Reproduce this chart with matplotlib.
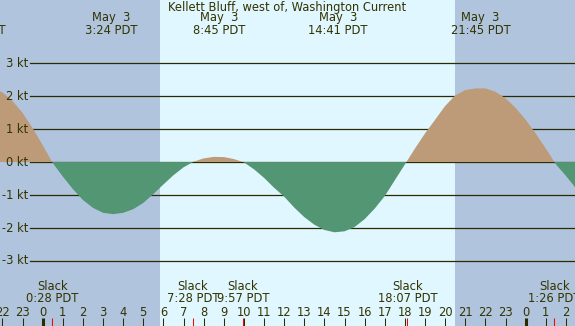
import numpy as np
import matplotlib
matplotlib.use("Agg")
import matplotlib.pyplot as plt

plt.rcParams['font.family'] = ['DejaVu Sans']

title = "Kellett Bluff, west of, Washington Current"

# sampled current speed (kt), every half hour, hours relative to May 3 00:00 PDT
hours = np.arange(-2.5, 26.51, 0.5)
speed = [2.24, 2.11, 1.85, 1.49, 1.03, 0.51, -0.03, -0.44, -0.82, -1.15,
         -1.39, -1.54, -1.58, -1.54, -1.43, -1.24, -0.97, -0.68, -0.40, -0.16,
         0.01, 0.11, 0.155, 0.15, 0.09, -0.01, -0.22, -0.48, -0.78, -1.05,
         -1.38, -1.67, -1.90, -2.06, -2.13, -2.10, -1.97, -1.73, -1.41, -1.03,
         -0.55, -0.07, 0.41, 0.87, 1.28, 1.70, 2.02, 2.18, 2.23, 2.23,
         2.13, 1.93, 1.64, 1.28, 0.86, 0.41, -0.07, -0.42, -0.80]

# max current events
max_hours = [-3.32, 3.40, 8.75, 14.68, 21.75]
max_dates = ["May  2", "May  3", "May  3", "May  3", "May  3"]
max_labels = ["20:41 PDT", "3:24 PDT", "8:45 PDT", "14:41 PDT", "21:45 PDT"]

# slack events
slack_hours = [0.47, 7.47, 9.95, 18.12, 25.43]
slack_labels = ["0:28 PDT", "7:28 PDT", "9:57 PDT", "18:07 PDT", "1:26 PDT"]

# daylight
sunrise = 5.83
sunset = 20.49

y_ticks = [3, 2, 1, 0, -1, -2, -3]
hour_ticks = list(range(-2, 27))

night_col = '#b0c4de'
day_col = '#e0f7ff'
flood_col = '#bd9b79'
ebb_col = '#539673'
txt_col = '#333300'
FS = 8.3

W, H = 575, 326
fig = plt.figure(figsize=(W / 100, H / 100), dpi=100)
ax = fig.add_axes([0, 0, 1, 1])
x0, x1 = -2.12, 26.45
y0, y1 = -4.97, 4.91
ax.set_xlim(x0, x1)
ax.set_ylim(y0, y1)
ax.axis('off')

# background
ax.axvspan(x0, sunrise, color=night_col, zorder=0, lw=0)
ax.axvspan(sunrise, sunset, color=day_col, zorder=0, lw=0)
ax.axvspan(sunset, x1, color=night_col, zorder=0, lw=0)

# grid lines and labels
for v in y_ticks:
    ax.axhline(v, xmin=30 / W, xmax=1, color='#2b2b00', lw=0.9, zorder=1)
    ax.text(x0 + 28 / 20.125, v, f"{v} kt", ha='right', va='center',
            fontsize=FS, color=txt_col, zorder=3)

# current fill
h = np.asarray(hours)
s = np.asarray(speed)
ax.fill_between(h, 0, s, where=s >= 0, interpolate=True, color=flood_col,
                lw=0, zorder=2)
ax.fill_between(h, 0, s, where=s <= 0, interpolate=True, color=ebb_col,
                lw=0, zorder=2)

# title
ax.text(0.5, 1 - 7 / H, title, transform=ax.transAxes, ha='center',
        va='center', fontsize=FS, color=txt_col, zorder=4)

# max labels
trans = ax.get_xaxis_transform()
for t, d, lab in zip(max_hours, max_dates, max_labels):
    ax.text(t, 1 - 18 / H, d, transform=trans, ha='center', va='center',
            fontsize=FS, color=txt_col, zorder=4)
    ax.text(t, 1 - 31 / H, lab, transform=trans, ha='center', va='center',
            fontsize=FS, color=txt_col, zorder=4)

# slack labels
for t, lab in zip(slack_hours, slack_labels):
    ax.text(t, 1 - 287 / H, "Slack", transform=trans, ha='center',
            va='center', fontsize=FS, color=txt_col, zorder=4)
    ax.text(t, 1 - 299 / H, lab, transform=trans, ha='center', va='center',
            fontsize=FS, color=txt_col, zorder=4)

# hour ticks
for hr in hour_ticks:
    ax.text(hr, 1 - 313 / H, str(hr % 24), transform=trans, ha='center',
            va='center', fontsize=FS, color=txt_col, zorder=4)
    lw = 2.2 if hr % 24 == 0 else 0.75
    ax.plot([hr, hr], [0, 8 / H], transform=trans, color='#2b2b00', lw=lw,
            zorder=4, solid_capstyle='butt')

for t in slack_hours:
    ax.plot([t, t], [0, 8 / H], transform=trans, color='red', lw=0.75,
            zorder=5, solid_capstyle='butt')

fig.savefig("out.png", dpi=100)
